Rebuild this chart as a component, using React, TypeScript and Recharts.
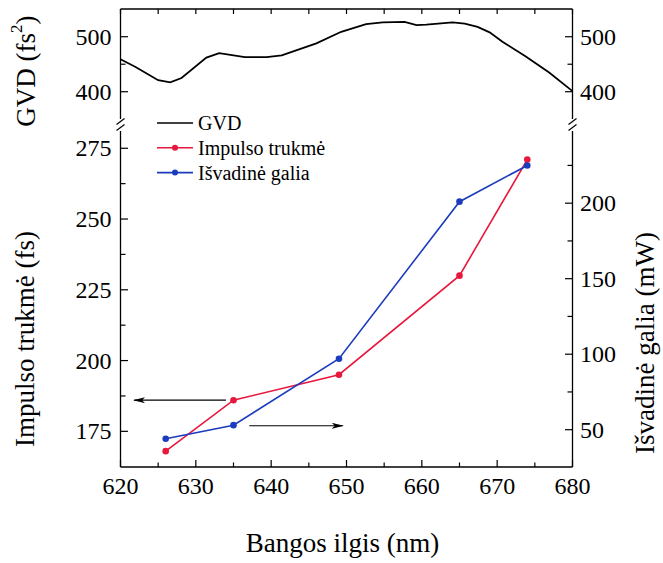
import { LineChart, Line, XAxis, YAxis, ReferenceLine } from "recharts";

const FONT = "Liberation Serif, Times New Roman, serif";
const RED = "#e8173c";
const BLUE = "#1b3dbd";

// GVD curve (top panel)
const gvdWavelengths = [620, 622, 625, 626.6, 628.1, 631.4, 633.1, 636.5, 639.4, 641.4, 646, 649.3, 652.6, 654.8, 657.7, 659.3, 660.6, 664.1, 665.7, 667.4, 669, 670.7, 673.8, 676.9, 680];
const gvdValues = [459, 445, 421, 417, 425, 462, 470, 463, 463, 466, 488, 509, 523, 526, 527, 521, 522, 526, 524, 518, 508, 491, 464, 435, 401];

// measured points (bottom panel)
const wavelengths = [626, 635, 649, 665, 674];
const pulseDuration = [168, 186, 195, 230, 271];
const outputPower = [44, 53, 97, 201, 225];

const xTicks = [620, 625, 630, 635, 640, 645, 650, 655, 660, 665, 670, 675, 680];
const gvdTicks = [400, 450, 500];
const pulseTicks = [175, 187.5, 200, 212.5, 225, 237.5, 250, 262.5, 275];
const powerTicks = [50, 75, 100, 125, 150, 175, 200, 225];

// arrows telling which axis belongs to which curve
const pulseArrow = [{ x: 634, y: 186 }, { x: 621.8, y: 186 }];
const powerArrow = [{ x: 637.1, y: 52.6 }, { x: 649.5, y: 52.6 }];

const gvdData = gvdWavelengths.map((wl, i) => ({ wl, gvd: gvdValues[i] }));
const measData = wavelengths.map((wl, i) => ({ wl, pulse: pulseDuration[i], power: outputPower[i] }));

const legendItems = [
  { name: "GVD", color: "#000", dot: false },
  { name: "Impulso trukmė", color: RED, dot: true },
  { name: "Išvadinė galia", color: BLUE, dot: true },
];

const axisStyle = { stroke: "#000", strokeWidth: 1.3 };
const tickFont = { fontFamily: FONT, fontSize: 24 };

function BottomTick(props: any) {
  const { x, y, payload } = props;
  const major = payload.value % 10 === 0;
  return (
    <g>
      <line x1={x} y1={y} x2={x} y2={y - (major ? 7 : 4.5)} stroke="#000" strokeWidth={1.2} />
      {major && (
        <text x={x} y={y + 19} textAnchor="middle" dominantBaseline="central" style={tickFont} fill="#000">
          {payload.value}
        </text>
      )}
    </g>
  );
}

function TopTick(props: any) {
  const { x, y } = props;
  return <line x1={x} y1={y} x2={x} y2={y + 5} stroke="#000" strokeWidth={1.2} />;
}

function makeYTick(side: "left" | "right", step: number) {
  return (props: any) => {
    const { x, y, payload } = props;
    const major = payload.value % step === 0;
    const dir = side === "left" ? 1 : -1;
    return (
      <g>
        <line x1={x} y1={y} x2={x + dir * (major ? 7.5 : 5)} y2={y} stroke="#000" strokeWidth={1.2} />
        {major && (
          <text
            x={side === "left" ? x - 9 : x + 7.5}
            y={y}
            textAnchor={side === "left" ? "end" : "start"}
            dominantBaseline="central"
            style={tickFont}
            fill="#000"
          >
            {payload.value}
          </text>
        )}
      </g>
    );
  };
}

const dot = (color: string) => (props: any) => (
  <circle key={props.index} cx={props.cx} cy={props.cy} r={3.3} fill={color} />
);

function BreakMark({ x, y }: { x: number; y: number }) {
  return <line x1={x - 4} y1={y + 3} x2={x + 4} y2={y - 3} stroke="#000" strokeWidth={1.2} />;
}

function Legend() {
  return (
    <g style={{ fontFamily: FONT, fontSize: 20 }}>
      {legendItems.map((it, i) => {
        const cy = 123 + i * 24.8;
        return (
          <g key={it.name}>
            <line x1={157} y1={cy} x2={193} y2={cy} stroke={it.color} strokeWidth={1.6} />
            {it.dot && <circle cx={175} cy={cy} r={3} fill={it.color} />}
            <text x={198} y={cy} dominantBaseline="central" fill="#000">
              {it.name}
            </text>
          </g>
        );
      })}
    </g>
  );
}

function Arrow(props: any) {
  const { x1, y1, x2, y2 } = props;
  return <line x1={x1} y1={y1} x2={x2} y2={y2} stroke="#000" strokeWidth={1.2} markerEnd="url(#arrowHead)" />;
}

const titleStyle = { fontFamily: FONT, fontSize: 27 };

export default function App() {
  return (
    <div style={{ position: "absolute", left: 0, top: 0, width: 663, height: 563, background: "#fff", fontFamily: FONT }}>
      <div style={{ position: "absolute", left: 0, top: 0 }}>
        <LineChart width={663} height={563} data={measData} margin={{ top: 131, right: 10.5, bottom: 36, left: 40.5 }}>
          <defs>
            <marker id="arrowHead" viewBox="0 0 12 6" refX={11} refY={3} markerWidth={12} markerHeight={6} markerUnits="userSpaceOnUse" orient="auto">
              <path d="M0,0 L12,3 L0,6 L3,3 z" fill="#000" />
            </marker>
          </defs>
          <XAxis
            dataKey="wl"
            type="number"
            domain={[620, 680]}
            ticks={xTicks}
            interval={0}
            allowDataOverflow
            height={60}
            tickSize={0}
            tickMargin={0}
            tickLine={false}
            tick={BottomTick}
            axisLine={axisStyle}
          />
          <YAxis
            yAxisId="left"
            type="number"
            domain={[162.4, 281.1]}
            ticks={pulseTicks}
            interval={0}
            allowDataOverflow
            width={80}
            tickSize={0}
            tickMargin={0}
            tickLine={false}
            tick={makeYTick("left", 25)}
            axisLine={axisStyle}
          />
          <YAxis
            yAxisId="right"
            orientation="right"
            type="number"
            domain={[25.3, 247.8]}
            ticks={powerTicks}
            interval={0}
            allowDataOverflow
            width={80}
            tickSize={0}
            tickMargin={0}
            tickLine={false}
            tick={makeYTick("right", 50)}
            axisLine={axisStyle}
          />
          <ReferenceLine yAxisId="left" segment={pulseArrow} ifOverflow="visible" shape={Arrow} />
          <ReferenceLine yAxisId="right" segment={powerArrow} ifOverflow="visible" shape={Arrow} />
          <Line yAxisId="left" dataKey="pulse" stroke={RED} strokeWidth={1.6} dot={dot(RED)} isAnimationActive={false} />
          <Line yAxisId="right" dataKey="power" stroke={BLUE} strokeWidth={1.6} dot={dot(BLUE)} isAnimationActive={false} />
          <Legend />
          <BreakMark x={120.5} y={121.5} />
          <BreakMark x={120.5} y={127.5} />
          <BreakMark x={572.5} y={121.5} />
          <BreakMark x={572.5} y={127.5} />
          <g style={titleStyle} fill="#000">
            <text x={26} y={71} textAnchor="middle" dominantBaseline="central" transform="rotate(-90 26 71)">
              GVD (fs<tspan dy={-10} style={{ fontSize: 17 }}>2</tspan>
              <tspan dy={10}>)</tspan>
            </text>
            <text x={25} y={339} textAnchor="middle" dominantBaseline="central" transform="rotate(-90 25 339)">
              Impulso trukmė (fs)
            </text>
            <text x={645} y={343} textAnchor="middle" dominantBaseline="central" transform="rotate(-90 645 343)">
              Išvadinė galia (mW)
            </text>
            <text x={342.5} y={543} textAnchor="middle" dominantBaseline="central">
              Bangos ilgis (nm)
            </text>
          </g>
        </LineChart>
      </div>
      <div style={{ position: "absolute", left: 0, top: 0 }}>
        <LineChart width={663} height={125} data={gvdData} margin={{ top: 8, right: 10.5, bottom: 6, left: 40.5 }}>
          <XAxis
            dataKey="wl"
            type="number"
            orientation="top"
            domain={[620, 680]}
            ticks={xTicks}
            interval={0}
            allowDataOverflow
            height={1}
            tickSize={0}
            tickMargin={0}
            tickLine={false}
            tick={TopTick}
            axisLine={axisStyle}
          />
          <YAxis
            yAxisId="left"
            type="number"
            domain={[350.4, 550.4]}
            ticks={gvdTicks}
            interval={0}
            allowDataOverflow
            width={80}
            tickSize={0}
            tickMargin={0}
            tickLine={false}
            tick={makeYTick("left", 100)}
            axisLine={axisStyle}
          />
          <YAxis
            yAxisId="right"
            orientation="right"
            type="number"
            domain={[350.4, 550.4]}
            ticks={gvdTicks}
            interval={0}
            allowDataOverflow
            width={80}
            tickSize={0}
            tickMargin={0}
            tickLine={false}
            tick={makeYTick("right", 100)}
            axisLine={axisStyle}
          />
          <Line yAxisId="left" dataKey="gvd" stroke="#000" strokeWidth={1.8} dot={false} isAnimationActive={false} />
        </LineChart>
      </div>
    </div>
  );
}
